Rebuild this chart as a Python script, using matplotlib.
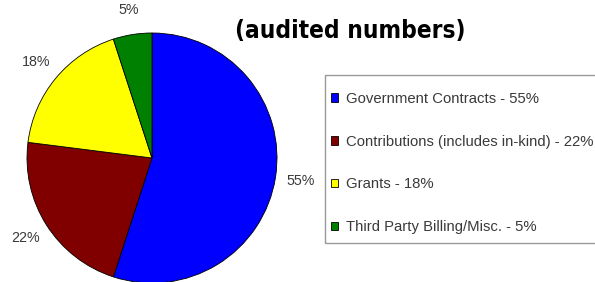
import matplotlib
matplotlib.use('Agg')
import matplotlib.pyplot as plt
from matplotlib.patches import Rectangle

# data
sources = ['Government Contracts', 'Contributions (includes in-kind)', 'Grants', 'Third Party Billing/Misc.']
shares = [55, 22, 18, 5]
colors = ['#0000ff', '#800000', '#ffff00', '#008000']
title = '(audited numbers)'

plt.rcParams['font.family'] = ['Liberation Sans', 'DejaVu Sans']

W, H = 595, 282
fig = plt.figure(figsize=(W / 100, H / 100), dpi=100)

# pie axes, in pixel units -> figure fraction
cx, cy, r = 152, 282 - 158, 125
ax = fig.add_axes([(cx - r) / W, (cy - r) / H, 2 * r / W, 2 * r / H])
wedges, texts = ax.pie(shares, colors=colors, startangle=90, counterclock=False,
                       labels=[f'{v}%' for v in shares], labeldistance=1.2,
                       wedgeprops=dict(edgecolor='black', linewidth=0.6),
                       textprops=dict(color='#3a3a3a', fontsize=10.3))
for t in texts:
    t.set_ha('center')
    t.set_va('center')
ax.set_xlim(-1, 1)
ax.set_ylim(-1, 1)
ax.set_aspect('auto')
ax.axis('off')

# legend box
fig.patches.append(Rectangle((325 / W, 1 - 243 / H), (W + 10 - 325) / W, (243 - 75) / H,
                             transform=fig.transFigure, fill=False,
                             edgecolor='#999999', linewidth=1.0))
fig.legend(wedges, [f'{s} - {v}%' for s, v in zip(sources, shares)],
           loc='upper left', bbox_to_anchor=(331 / W, 1 - 92 / H),
           frameon=False, borderpad=0, borderaxespad=0,
           handlelength=0.5, handleheight=0.5, handletextpad=0.5,
           labelspacing=1.93, fontsize=10.7, labelcolor='#3a3a3a')

fig.text(350 / W, 1 - 31 / H, title, ha='center', va='center',
         fontsize=17.5, fontweight='bold', fontstretch='condensed',
         family='DejaVu Sans', color='black')

fig.savefig('out.png', dpi=100)
